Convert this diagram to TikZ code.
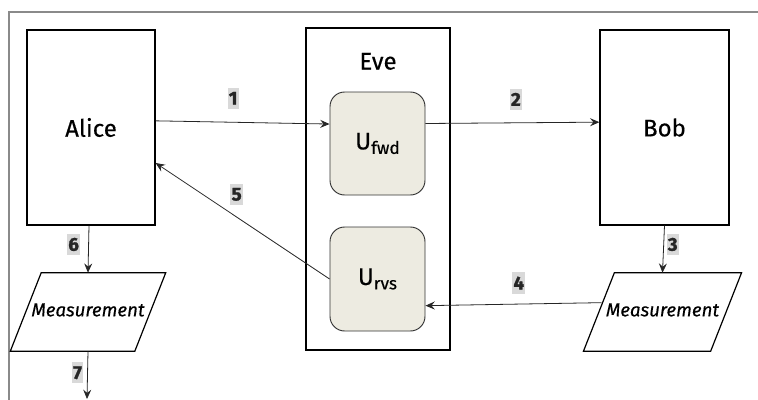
\documentclass[tikz,border=0pt]{standalone}
\usepackage{fontspec}
\setmainfont{Fira Sans}[FakeBold=1.5]
\newfontfamily\medfont{Fira Sans}[FakeBold=0.35]
\usepackage{xcolor}
\usetikzlibrary{positioning,arrows.meta}
\definecolor{opbeige}{HTML}{EDEBE1}
\definecolor{tagfill}{HTML}{D9D9D9}
\definecolor{framegray}{HTML}{8A8A8A}
\tikzset{
  party/.style={draw, line width=0.9pt, minimum width=96pt, minimum height=146.25pt,
    font=\medfont\fontsize{18}{20}\selectfont},
  unitary/.style={draw=black!80, line width=0.7pt, fill=opbeige, rounded corners=11pt,
    minimum width=71.25pt, minimum height=77.25pt, font=\medfont\fontsize{18}{20}\selectfont},
  meas/.style={minimum width=93pt, minimum height=58.5pt, inner sep=0pt,
    font=\medfont\fontsize{14}{16}\selectfont\itshape},
  slant/.style={line width=0.9pt, line join=miter},
  flow/.style={-{Stealth[length=7pt,width=6pt,inset=2.5pt]}, line width=0.6pt, black!85},
  tag/.style={fill=tagfill, inner xsep=1pt, inner ysep=0pt, minimum height=16pt,
    font=\fontsize{14}{16}\selectfont\bfseries}
}
\newcommand{\opname}[1]{U\raisebox{-0.35ex}{\fontsize{13}{14}\selectfont #1}}

\begin{document}
\begin{tikzpicture}[x=0.75pt, y=-0.75pt]
      \useasboundingbox (0,0) rectangle (758,400);
      % Frame
      \draw[framegray, line width=0.8pt] (9,400) -- (9,12) -- (758,12);

      % Nodes
      \node (alice) [party] at (91,127.5) {Alice};
      \node (eve) [party, minimum width=108pt, minimum height=241.5pt,
        label={[anchor=center, yshift=-25.5pt, font=\medfont\fontsize{18}{20}\selectfont]north:Eve}]
        at (378,189) {};
      \node (ufwd) [unitary] at (377.5,143.5) {\opname{fwd}};
      \node (urvs) [unitary, minimum height=78pt] at (377.5,279) {\opname{rvs}};
      \node (bob) [party, minimum width=96.75pt] at (664.5,127.5) {Bob};
      \node (lmeas) [meas] at (88,310) {Measurement};
      \node (rmeas) [meas, minimum width=95pt] at (662.5,310) {Measurement};
      \coordinate (out) at (87,399);

      % Measurement outlines
      \foreach \m in {lmeas,rmeas}
        \draw[slant] ([xshift=-11.6pt, yshift=-1.5pt]\m.south west)
          -- ([xshift=-11.6pt, yshift=-1.5pt]\m.south east)
          -- ([xshift=11.6pt, yshift=-1.5pt]\m.north east)
          -- ([xshift=11.6pt, yshift=-1.5pt]\m.north west) -- cycle;

      % Arrows
      \draw[flow] ([yshift=5pt]alice.east) -- ([yshift=14.6pt]ufwd.west)
        node[tag, pos=0.446, yshift=18pt] {1};
      \draw[flow] ([yshift=15pt]ufwd.east) -- ([yshift=4pt]bob.west)
        node[tag, pos=0.52, yshift=17.6pt] {2};
      \draw[flow] (bob.south) -- ([yshift=-1.5pt]rmeas.north)
        node[tag, pos=0.4, xshift=6.75pt] {3};
      \draw[flow] ([xshift=2pt, yshift=5.5pt]rmeas.west) -- ([yshift=-20pt]urvs.east)
        node[tag, pos=0.47, yshift=15.75pt] {4};
      \draw[flow] (urvs.west) -- ([yshift=-26.6pt]alice.east)
        node[tag, pos=0.534, yshift=17pt] {5};
      \draw[flow] ([xshift=-1.5pt]alice.south) -- ([yshift=-1.5pt]lmeas.north)
        node[tag, pos=0.4, xshift=-11.25pt] {6};
      \draw[flow] ([yshift=-1.5pt]lmeas.south) -- (out)
        node[tag, pos=0.45, xshift=-7.5pt] {7};
\end{tikzpicture}
\end{document}
